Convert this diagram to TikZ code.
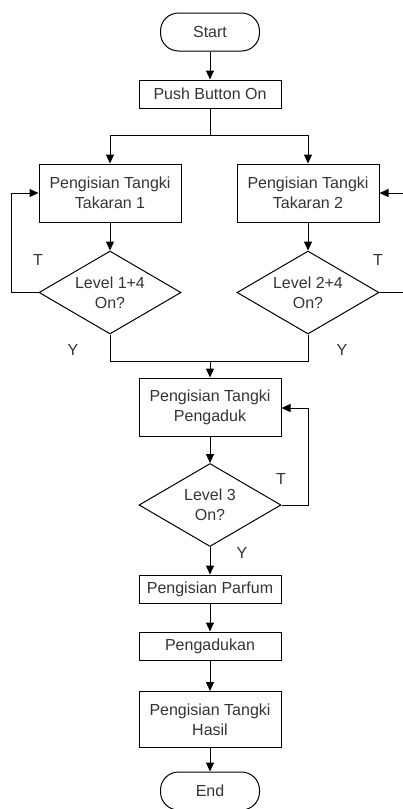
\documentclass[tikz,border=0pt]{standalone}
\usepackage{fontspec}
\setmainfont{Liberation Sans}
\usetikzlibrary{arrows.meta}
\usetikzlibrary{shapes.geometric}

\definecolor{txtgray}{HTML}{333333}

\tikzset{
  arr/.style={-{Triangle[length=9pt,width=8pt]}},
  box/.style={draw,line width=1pt,minimum width=142pt,inner sep=0pt,
    align=center,text=txtgray},
  terminal/.style={draw,line width=1pt,rounded corners=18pt,minimum width=99pt,
    minimum height=38pt,inner sep=0pt,text=txtgray},
  decision/.style={draw,line width=1pt,diamond,shape aspect=1.7,minimum width=142pt,
    minimum height=83pt,inner sep=0pt,align=center,text=txtgray},
  yn/.style={text=txtgray,inner sep=0pt}
}

\begin{document}
\begin{tikzpicture}[x=1pt,y=-1pt,line width=1pt,
    font=\fontsize{16}{20}\selectfont]
    \useasboundingbox (0,0) rectangle (403,809);
    % top part
    \node[terminal] (start) at (210,32) {Start};
    \node[box,minimum height=28pt] (push) at (210,94) {Push Button On};
    \coordinate (split) at (210,135);
    \node[box,minimum height=58pt] (tak1) at (110,193) {Pengisian Tangki\\Takaran 1};
    \node[box,minimum height=58pt] (tak2) at (308,193) {Pengisian Tangki\\Takaran 2};
    \node[decision] (lvl1) at (110,292.5) {Level 1+4\\On?};
    \node[decision] (lvl2) at (308,292.5) {Level 2+4\\On?};
    \coordinate (loopl) at (11,193);
    \coordinate (loopr) at (408,193);
    \coordinate (merge) at (210,361);
    \draw[arr] (start) -- (push);
    \draw (push) -- (split);
    \draw[arr] (split) -| (tak1.north);
    \draw[arr] (split) -| (tak2.north);
    \draw[arr] (tak1) -- (lvl1);
    \draw[arr] (tak2) -- (lvl2);
    \draw[arr] (lvl1.west) -| (loopl) -- (tak1.west);
    \draw[arr] (lvl2.east) -| (loopr) -- (tak2.east);
    \node[yn] (t1) at (38,260) {T};
    \node[yn] (t2) at (378,260) {T};
    \node[yn] (y1) at (73,350) {Y};
    \node[yn] (y2) at (342,350) {Y};
    \draw (lvl1.south) |- (merge);
    \draw (lvl2.south) |- (merge);
    % middle part
    \node[box,minimum height=58pt] (aduk) at (210,407) {Pengisian Tangki\\Pengaduk};
    \node[decision] (lvl3) at (210,505) {Level 3\\On?};
    \coordinate (loop3) at (308,408);
    \draw[arr] (merge) -- (aduk);
    \draw[arr] (aduk) -- (lvl3);
    \draw[arr] (lvl3.east) -| (loop3) -- (aduk.east |- loop3);
    \node[yn] (t3) at (281,479) {T};
    \node[yn] (y3) at (242,553) {Y};
    % bottom part
    \node[box,minimum height=28pt] (parfum) at (210,589) {Pengisian Parfum};
    \node[box,minimum height=28pt] (adukan) at (210,646) {Pengadukan};
    \node[box,minimum height=56pt] (hasil) at (210,719.5) {Pengisian Tangki\\Hasil};
    \node[terminal] (end) at (210,791) {End};
    \draw[arr] (lvl3) -- (parfum);
    \draw[arr] (parfum) -- (adukan);
    \draw[arr] (adukan) -- (hasil);
    \draw[arr] (hasil) -- (end);
\end{tikzpicture}
\end{document}
